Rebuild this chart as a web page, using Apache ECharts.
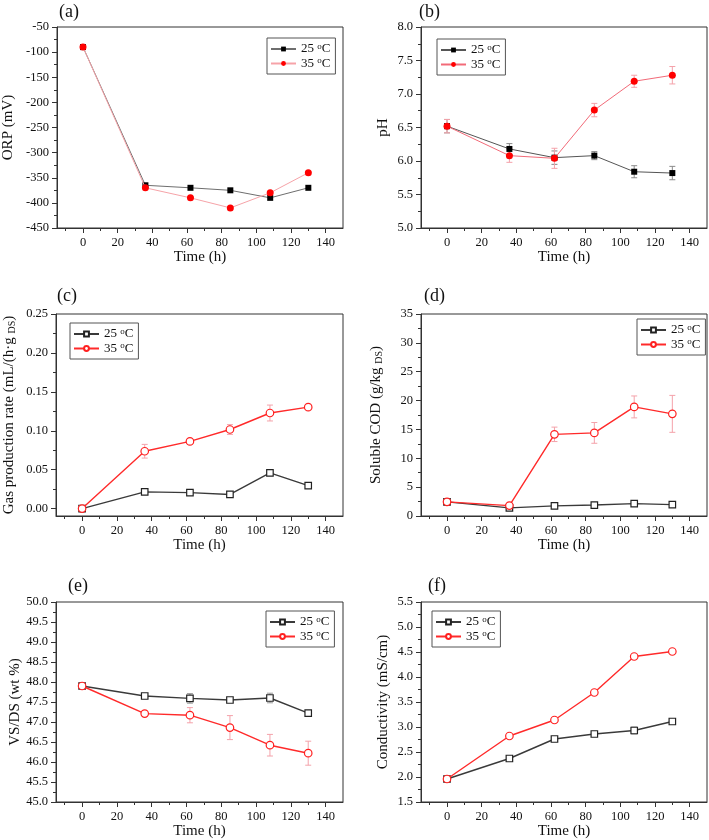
<!DOCTYPE html>
<html>
<head>
<meta charset="utf-8">
<script src="https://cdn.jsdelivr.net/npm/echarts@6/dist/echarts.min.js"></script>
<style>
html,body{margin:0;padding:0;background:#fff;}
#chart{width:709px;height:840px;}
</style>
</head>
<body>
<div id="chart"></div>
<script>
// ---------- data ----------
const times = [0, 36, 62, 85, 108, 130];
const xTicks = [0, 20, 40, 60, 80, 100, 120, 140];
const xMinorTicks = [-10, 10, 30, 50, 70, 90, 110, 130];

const orp25 = [-90, -365, -370, -375, -390, -370];
const orp35 = [-90, -370, -390, -410, -380, -340];
const orpTicks = [-450, -400, -350, -300, -250, -200, -150, -100, -50];
const orpMinor = [-425, -375, -325, -275, -225, -175, -125, -75];

const ph25 = [6.52, 6.18, 6.05, 6.08, 5.84, 5.82];
const ph25Err = [0.10, 0.08, 0.10, 0.06, 0.09, 0.10];
const ph35 = [6.52, 6.08, 6.04, 6.76, 7.19, 7.28];
const ph35Err = [0.10, 0.10, 0.15, 0.10, 0.09, 0.13];
const phTicks = [5.0, 5.5, 6.0, 6.5, 7.0, 7.5, 8.0];
const phMinor = [5.25, 5.75, 6.25, 6.75, 7.25, 7.75];

const gas25 = [0, 0.0215, 0.0205, 0.0182, 0.046, 0.0295];
const gas25Err = [0.001, 0.002, 0.002, 0.002, 0.002, 0.002];
const gas35 = [0, 0.0737, 0.0863, 0.1016, 0.1228, 0.1303];
const gas35Err = [0.001, 0.0088, 0.002, 0.0063, 0.0102, 0.002];
const gasTicks = [0, 0.05, 0.10, 0.15, 0.20, 0.25];
const gasMinor = [0.025, 0.075, 0.125, 0.175, 0.225];

const cod25 = [2.45, 1.40, 1.75, 1.90, 2.15, 1.97];
const cod25Err = [0.2, 0.2, 0.2, 0.2, 0.2, 0.2];
const cod35 = [2.45, 1.80, 14.15, 14.40, 18.90, 17.70];
const cod35Err = [0.2, 0.2, 1.25, 1.8, 1.9, 3.2];
const codTicks = [0, 5, 10, 15, 20, 25, 30, 35];
const codMinor = [2.5, 7.5, 12.5, 17.5, 22.5, 27.5, 32.5];

const vs25 = [47.90, 47.65, 47.59, 47.55, 47.60, 47.22];
const vs25Err = [0.03, 0.03, 0.12, 0.05, 0.12, 0.07];
const vs35 = [47.90, 47.21, 47.17, 46.86, 46.42, 46.22];
const vs35Err = [0.03, 0.03, 0.19, 0.30, 0.27, 0.30];
const vsTicks = [45.0, 45.5, 46.0, 46.5, 47.0, 47.5, 48.0, 48.5, 49.0, 49.5, 50.0];
const vsMinor = [45.25, 45.75, 46.25, 46.75, 47.25, 47.75, 48.25, 48.75, 49.25, 49.75];

const cond25 = [1.96, 2.37, 2.76, 2.86, 2.93, 3.11];
const cond25Err = [0.02, 0.02, 0.02, 0.02, 0.07, 0.03];
const cond35 = [1.96, 2.82, 3.14, 3.69, 4.41, 4.51];
const cond35Err = [0.02, 0.02, 0.02, 0.02, 0.02, 0.02];
const condTicks = [1.5, 2.0, 2.5, 3.0, 3.5, 4.0, 4.5, 5.0, 5.5];
const condMinor = [1.75, 2.25, 2.75, 3.25, 3.75, 4.25, 4.75, 5.25];

const legendLabels = ['25 {sup|o}C', '35 {sup|o}C'];
const panelLetters = ['(a)', '(b)', '(c)', '(d)', '(e)', '(f)'];

// ---------- layout / style ----------
const FONT = "'Liberation Serif','Times New Roman',serif";
const panels = [
  {grid:{left:56, top:27, width:287, height:201}, yMin:-450, yMax:-50, ticks:orpTicks, minor:orpMinor, dec:0,
   name:'ORP (mV)', nameGap:41, s25:orp25, s35:orp35, e25:null, e35:null, filled:true,
   c25line:'#6e6e6e', c35line:'#f6a3a8', legend:{left:267, top:38}, letter:{x:59, y:13}},
  {grid:{left:421, top:27, width:286, height:201}, yMin:5.0, yMax:8.0, ticks:phTicks, minor:phMinor, dec:1,
   name:'pH', nameGap:30, s25:ph25, s35:ph35, e25:ph25Err, e35:ph35Err, filled:true,
   c25line:'#555555', c35line:'#f26a78', legend:{left:437, top:39}, letter:{x:419, y:13}},
  {grid:{left:56, top:314, width:287, height:202}, yMin:-0.0095, yMax:0.25, ticks:gasTicks, minor:gasMinor, dec:2,
   name:'{n|Gas production rate (mL/(h·g }{s|DS}{n|)}', nameGap:39, s25:gas25, s35:gas35, e25:gas25Err, e35:gas35Err, filled:false,
   c25line:'#3a3a3a', c35line:'#ff2a2a', legend:{left:70, top:323}, letter:{x:57, y:297}},
  {grid:{left:421, top:314, width:286, height:202}, yMin:0, yMax:35, ticks:codTicks, minor:codMinor, dec:0,
   name:'{n|Soluble COD (g/kg }{s|DS}{n|)}', nameGap:37, s25:cod25, s35:cod35, e25:cod25Err, e35:cod35Err, filled:false,
   c25line:'#3a3a3a', c35line:'#ff2a2a', legend:{left:637, top:319}, letter:{x:424, y:297}},
  {grid:{left:56, top:602, width:287, height:201}, yMin:45, yMax:50, ticks:vsTicks, minor:vsMinor, dec:1,
   name:'VS/DS (wt %)', nameGap:29, s25:vs25, s35:vs35, e25:vs25Err, e35:vs35Err, filled:false,
   c25line:'#3a3a3a', c35line:'#ff2a2a', legend:{left:266, top:611}, letter:{x:68, y:587}},
  {grid:{left:421, top:602, width:286, height:201}, yMin:1.5, yMax:5.5, ticks:condTicks, minor:condMinor, dec:1,
   name:'Conductivity (mS/cm)', nameGap:30, s25:cond25, s35:cond35, e25:cond25Err, e35:cond35Err, filled:false,
   c25line:'#3a3a3a', c35line:'#ff2a2a', legend:{left:432, top:611}, letter:{x:428, y:587}}
];

function errRender(color) {
  return function (params, api) {
    const x = api.value(0), y = api.value(1), e = api.value(2);
    const top = api.coord([x, y + e]);
    const bot = api.coord([x, y - e]);
    const w = 3;
    const st = {stroke: color, lineWidth: 1};
    return {type: 'group', children: [
      {type: 'line', shape: {x1: top[0], y1: top[1], x2: bot[0], y2: bot[1]}, style: st},
      {type: 'line', shape: {x1: top[0] - w, y1: top[1], x2: top[0] + w, y2: top[1]}, style: st},
      {type: 'line', shape: {x1: bot[0] - w, y1: bot[1], x2: bot[0] + w, y2: bot[1]}, style: st}
    ]};
  };
}

const grids = [], xAxes = [], yAxes = [], series = [], legends = [], graphics = [];
const axisColor = '#333';

panels.forEach((p, i) => {
  grids.push(Object.assign({show: true, borderColor: axisColor, borderWidth: 1, backgroundColor: 'transparent'}, p.grid));
  const xi = xAxes.length, yi = yAxes.length;
  xAxes.push({
    gridIndex: i, type: 'value', min: -15, max: 150, position: 'bottom',
    axisLine: {show: true, onZero: false, lineStyle: {color: axisColor, width: 1}},
    axisTick: {show: true, customValues: xTicks, length: 5, inside: false, lineStyle: {color: axisColor}},
    axisLabel: {customValues: xTicks, margin: 8, color: '#111', fontSize: 12.5, fontFamily: FONT},
    splitLine: {show: false},
    name: 'Time (h)', nameLocation: 'middle', nameGap: 22,
    nameTextStyle: {fontSize: 15, fontFamily: FONT, color: '#111'}
  });
  xAxes.push({
    gridIndex: i, type: 'value', min: -15, max: 150, position: 'bottom',
    axisLine: {show: false, onZero: false},
    axisTick: {show: true, customValues: xMinorTicks, length: 3, lineStyle: {color: axisColor}},
    axisLabel: {show: false}, splitLine: {show: false}
  });
  const dec = p.dec;
  yAxes.push({
    gridIndex: i, type: 'value', min: p.yMin, max: p.yMax, position: 'left',
    axisLine: {show: true, onZero: false, lineStyle: {color: axisColor, width: 1}},
    axisTick: {show: true, customValues: p.ticks, length: 5, lineStyle: {color: axisColor}},
    axisLabel: {customValues: p.ticks, margin: 8, color: '#111', fontSize: 12.5, fontFamily: FONT,
      formatter: v => Number(v).toFixed(dec)},
    splitLine: {show: false},
    name: p.name, nameLocation: 'middle', nameGap: p.nameGap,
    nameTextStyle: {fontSize: 15, fontFamily: FONT, color: '#111',
      rich: {n: {fontSize: 15, fontFamily: FONT, color: '#111'},
             s: {fontSize: 10, fontFamily: FONT, color: '#111', verticalAlign: 'bottom', padding: [5, 0, 0, 0]}}}
  });
  yAxes.push({
    gridIndex: i, type: 'value', min: p.yMin, max: p.yMax, position: 'left',
    axisLine: {show: false, onZero: false},
    axisTick: {show: true, customValues: p.minor, length: 3, lineStyle: {color: axisColor}},
    axisLabel: {show: false}, splitLine: {show: false}
  });

  const n25 = 'p' + i + '_25', n35 = 'p' + i + '_35';
  const err25col = p.filled ? '#8a8a8a' : '#9a9a9a';
  const err35col = '#f4a2aa';
  if (p.e25) {
    series.push({type: 'custom', name: 'e' + i + '_25', xAxisIndex: xi, yAxisIndex: yi, z: 1, silent: true,
      encode: {x: 0, y: 1}, renderItem: errRender(err25col),
      data: times.map((t, k) => [t, p.s25[k], p.e25[k]])});
  }
  if (p.e35) {
    series.push({type: 'custom', name: 'e' + i + '_35', xAxisIndex: xi, yAxisIndex: yi, z: 1, silent: true,
      encode: {x: 0, y: 1}, renderItem: errRender(err35col),
      data: times.map((t, k) => [t, p.s35[k], p.e35[k]])});
  }
  series.push({
    type: 'line', name: n25, xAxisIndex: xi, yAxisIndex: yi, z: 3,
    data: times.map((t, k) => [t, p.s25[k]]),
    symbol: 'rect', symbolSize: p.filled ? 6 : 6.5,
    lineStyle: {color: p.c25line, width: p.filled ? 1 : 1.4},
    itemStyle: p.filled ? {color: '#000', borderWidth: 0} : {color: '#fff', borderColor: '#222', borderWidth: 1.2},
    color: p.c25line
  });
  series.push({
    type: 'line', name: n35, xAxisIndex: xi, yAxisIndex: yi, z: 4,
    data: times.map((t, k) => [t, p.s35[k]]),
    symbol: 'circle', symbolSize: p.filled ? 7 : 7.5,
    lineStyle: {color: p.c35line, width: p.filled ? 1 : 1.4},
    itemStyle: p.filled ? {color: '#ff0000', borderWidth: 0} : {color: '#fff', borderColor: '#ff2020', borderWidth: 1.2},
    color: p.c35line
  });

  legends.push({
    left: p.legend.left, top: p.legend.top, orient: 'vertical',
    data: [n25, n35], selectedMode: false,
    formatter: name => (name.endsWith('_25') ? legendLabels[0] : legendLabels[1]),
    itemWidth: 25, itemHeight: 6, itemGap: 1,
    padding: [4, 5, 4, 3],
    borderColor: '#555', borderWidth: 1, backgroundColor: '#fff',
    textStyle: {fontSize: 13, fontFamily: FONT, color: '#111',
      rich: {sup: {fontSize: 9, fontFamily: FONT, color: '#111', verticalAlign: 'top', lineHeight: 14}}}
  });

  graphics.push({
    type: 'text', left: p.letter.x, top: p.letter.y - 10,
    style: {text: panelLetters[i], font: '18px ' + FONT, fill: '#111'}
  });
});

const chart = echarts.init(document.getElementById('chart'), null, {renderer: 'canvas'});
chart.setOption({
  animation: false,
  backgroundColor: '#fff',
  grid: grids, xAxis: xAxes, yAxis: yAxes,
  series: series, legend: legends, graphic: graphics
});
</script>
</body>
</html>
